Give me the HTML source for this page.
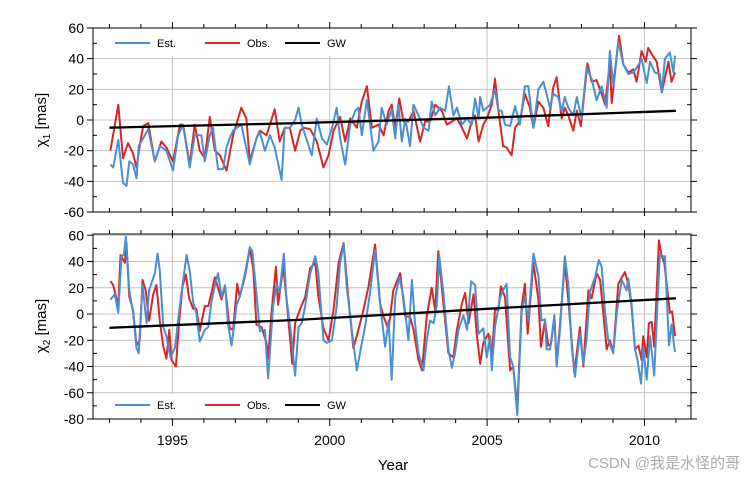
<!DOCTYPE html>
<html><head><meta charset="utf-8">
<style>
html,body{margin:0;padding:0;background:#fff;}
svg{display:block;font-family:"Liberation Sans","Noto Sans CJK SC",sans-serif;}
</style></head>
<body>
<svg id="chart" width="756" height="481" viewBox="0 0 756 481">
<g id="grid"></g>
<g id="series"></g>
<g id="axes"></g>
<g id="legend"></g>
<text x="393" y="470" font-size="15" text-anchor="middle">Year</text>
<text transform="translate(46,120) rotate(-90)" font-size="15" text-anchor="middle">χ<tspan font-size="10" dy="4">1</tspan><tspan dy="-4"> [mas]</tspan></text>
<text transform="translate(46,326) rotate(-90)" font-size="15" text-anchor="middle">χ<tspan font-size="10" dy="4">2</tspan><tspan dy="-4"> [mas]</tspan></text>
<text x="740" y="468" font-size="15" fill="#aaa" text-anchor="end">CSDN @我是水怪的哥</text>
</svg>
<script>
// ---- data ----
const xTicks = [1995, 2000, 2005, 2010];
const topYTicks = [60, 40, 20, 0, -20, -40, -60];
const botYTicks = [60, 40, 20, 0, -20, -40, -60, -80];
const legendLabels = ["Est.", "Obs.", "GW"];

const topEstYears = [1993.03,1993.12,1993.28,1993.43,1993.54,1993.63,1993.75,1993.86,1993.93,1994.07,1994.23,1994.44,1994.60,1994.81,1995.02,1995.18,1995.34,1995.55,1995.71,1995.92,1996.03,1996.19,1996.29,1996.45,1996.61,1996.72,1996.82,1996.93,1997.19,1997.46,1997.67,1997.78,1997.94,1998.10,1998.25,1998.47,1998.57,1998.73,
1998.90,1999.01,1999.11,1999.22,1999.43,1999.59,1999.75,1999.91,2000.07,2000.22,2000.33,2000.49,2000.65,2000.81,2000.91,2001.02,2001.18,2001.39,2001.55,2001.65,2001.81,2001.97,2002.08,2002.18,2002.29,2002.40,2002.55,2002.66,2002.82,2002.98,2003.14,2003.24,2003.35,2003.51,2003.67,2003.79,2003.93,2004.04,2004.20,2004.36,2004.51,2004.62,2004.73,2004.78,2004.88,2004.99,2005.10,
2005.25,2005.36,2005.46,2005.57,2005.73,2005.89,2006.04,2006.20,2006.31,2006.47,2006.63,2006.79,2006.89,2007.00,2007.10,2007.26,2007.37,2007.47,2007.58,2007.74,2007.85,2008.00,2008.16,2008.32,2008.48,2008.64,2008.80,2008.90,2009.01,2009.17,2009.33,2009.49,2009.65,2009.81,2009.91,2010.07,2010.18,2010.33,2010.49,2010.55,2010.65,2010.81,2010.92,2010.97];
const topEstValues = [-29,-31,-13,-41,-43,-27,-29,-38,-17,-12,-6,-27,-17,-20,-33,-10,-3,-31,-10,-10,-27,-10,-5,-32,-32,-18,-12,-7,-3,-29,-12,-8,-20,-10,-18,-39,-5,-5,
0,8,-3,-10,-23,1,-12,-16,-5,8,-12,-29,-3,6,8,-10,13,-20,-14,8,-3,7,-12,10,-14,1,-17,10,3,-5,-7,12,3,8,6,22,3,8,-3,1,-3,14,1,15,6,8,10,
20,6,6,-3,-4,9,-3,22,22,-5,20,25,17,8,17,15,6,15,8,3,15,1,34,27,13,22,8,45,23,51,36,30,31,36,40,24,38,31,30,18,40,44,31,42];

const topObsYears = [1993.03,1993.28,1993.43,1993.59,1993.75,1993.86,1993.96,1994.07,1994.23,1994.44,1994.65,1994.81,1995.02,1995.24,1995.34,1995.55,1995.71,1995.87,1996.03,1996.19,1996.35,1996.51,1996.72,1996.93,1997.19,1997.35,1997.46,1997.67,1997.78,1997.99,1998.25,1998.41,1998.57,1998.73,
1998.90,1999.06,1999.16,1999.38,1999.59,1999.80,1999.96,2000.12,2000.33,2000.49,2000.65,2000.86,2001.02,2001.18,2001.34,2001.55,2001.71,2001.87,2001.97,2002.08,2002.21,2002.34,2002.50,2002.66,2002.87,2003.03,2003.19,2003.35,2003.56,2003.72,2003.88,2004.04,2004.20,2004.36,2004.51,2004.62,2004.73,2004.88,2004.99,2005.15,
2005.25,2005.36,2005.51,2005.62,2005.78,2005.89,2006.04,2006.20,2006.36,2006.47,2006.63,2006.79,2006.94,2007.10,2007.21,2007.37,2007.47,2007.58,2007.74,2007.85,2007.98,2008.19,2008.32,2008.48,2008.64,2008.75,2008.90,2008.96,2009.19,2009.33,2009.49,2009.65,2009.75,2009.91,2010.04,2010.12,2010.23,2010.39,2010.55,2010.76,2010.86,2010.97];
const topObsValues = [-20,10,-25,-15,-22,-31,-17,-4,-2,-27,-14,-18,-27,-3,-3,-29,-3,-20,-25,2,-20,-23,-33,-10,8,1,-27,-12,-7,-10,7,-14,-5,-5,
-20,-7,-5,-6,-14,-31,-23,-7,2,-14,1,-5,12,22,-5,-3,-10,6,10,-5,14,-1,-1,6,-14,-1,-1,10,6,-3,-1,1,-5,-12,-1,3,-14,-3,1,10,
27,6,-17,-18,-23,-5,-1,17,8,-5,12,8,-4,21,28,1,8,3,-7,6,-4,37,25,26,17,10,37,11,55,36,31,33,25,45,38,47,43,38,18,38,25,31];

const topGWYears = [1993, 1999, 2005, 2011];
const topGWValues = [-5, -2, 1.5, 6];

const botEstYears = [1993.03,1993.17,1993.28,1993.38,1993.46,1993.52,1993.63,1993.75,1993.86,1993.93,1994.05,1994.18,1994.26,1994.44,1994.53,1994.60,1994.71,1994.81,1994.94,1995.08,1995.21,1995.32,1995.45,1995.55,1995.66,1995.76,1995.87,1996.03,1996.14,1996.24,1996.35,1996.45,1996.56,1996.67,1996.77,1996.88,1997.04,1997.14,1997.30,1997.46,1997.54,1997.67,1997.78,1997.94,1998.04,1998.20,1998.31,1998.41,1998.54,1998.62,1998.78,
1998.90,1999.01,1999.11,1999.22,1999.38,1999.54,1999.64,1999.80,1999.91,2000.07,2000.22,2000.33,2000.44,2000.54,2000.70,2000.86,2001.02,2001.12,2001.28,2001.44,2001.60,2001.76,2001.87,2001.97,2002.08,2002.21,2002.34,2002.50,2002.61,2002.71,2002.82,2002.98,2003.08,2003.19,2003.30,2003.40,2003.48,2003.61,2003.77,2003.88,2003.98,2004.09,2004.25,2004.36,2004.49,2004.62,2004.73,2004.88,2004.99,2005.10,2005.15,
2005.25,2005.41,2005.51,2005.62,2005.73,2005.83,2005.96,2006.10,2006.20,2006.31,2006.47,2006.63,2006.73,2006.84,2006.89,2007.00,2007.14,2007.21,2007.32,2007.47,2007.58,2007.69,2007.79,2007.95,2008.06,2008.16,2008.27,2008.43,2008.55,2008.64,2008.75,2008.85,2009.01,2009.12,2009.28,2009.43,2009.49,2009.59,2009.70,2009.78,2009.89,2009.96,2010.07,2010.18,2010.31,2010.44,2010.49,2010.60,2010.65,2010.78,2010.86,2010.97];
const botEstValues = [11,15,1,44,45,59,18,1,-26,-30,22,-7,18,31,46,33,-10,-17,-33,-26,1,22,45,33,9,1,-21,-12,-10,9,22,31,13,22,-8,-24,7,13,30,51,48,16,-13,-12,-49,6,23,17,46,13,-17,
-47,-10,-7,6,31,44,31,-20,-22,-20,6,39,53,21,-12,-43,-22,-10,16,49,8,-25,-5,-50,13,28,13,-20,26,-7,-30,-43,-20,-5,-7,6,44,16,-27,-41,-30,-12,-1,-12,25,22,-15,-11,-33,-17,-43,
-10,12,18,23,-33,-40,-77,2,13,-5,46,29,-5,-4,-27,-27,-1,-40,-11,44,23,-25,-48,-15,-38,-20,17,28,41,36,1,-20,-30,1,26,18,27,8,-27,-35,-53,-26,-50,-17,-47,21,46,44,44,-24,-8,-29];

const botObsYears = [1993.03,1993.12,1993.28,1993.35,1993.49,1993.54,1993.63,1993.75,1993.86,1993.96,1994.05,1994.15,1994.26,1994.39,1994.49,1994.60,1994.71,1994.81,1994.90,1994.97,1995.11,1995.21,1995.32,1995.43,1995.53,1995.66,1995.76,1995.87,1996.03,1996.14,1996.24,1996.35,1996.56,1996.67,1996.82,1996.93,1997.06,1997.14,1997.30,1997.46,1997.57,1997.67,1997.83,1997.99,1998.04,1998.15,1998.29,1998.36,1998.52,1998.62,1998.81,
1998.90,1999.06,1999.22,1999.38,1999.54,1999.64,1999.80,1999.96,2000.12,2000.28,2000.44,2000.59,2000.75,2000.91,2001.07,2001.23,2001.44,2001.60,2001.71,2001.87,2002.02,2002.24,2002.40,2002.55,2002.66,2002.82,2002.93,2003.08,2003.24,2003.35,2003.45,2003.61,2003.77,2003.93,2004.04,2004.20,2004.30,2004.41,2004.57,2004.67,2004.78,2004.88,2005.04,2005.15,
2005.25,2005.36,2005.44,2005.57,2005.73,2005.83,2005.96,2006.10,2006.20,2006.29,2006.47,2006.63,2006.71,2006.84,2006.94,2007.03,2007.14,2007.21,2007.32,2007.47,2007.58,2007.77,2007.95,2008.06,2008.22,2008.32,2008.48,2008.59,2008.80,2008.90,2009.01,2009.17,2009.38,2009.49,2009.59,2009.70,2009.81,2009.91,2009.96,2010.07,2010.14,2010.23,2010.31,2010.46,2010.55,2010.63,2010.81,2010.88,2010.97];
const botObsValues = [25,22,6,45,39,54,13,3,-24,-20,26,18,-5,15,22,-5,-25,-34,-12,-35,-40,-7,21,30,12,4,4,-13,6,6,16,28,11,21,-11,-12,23,13,28,50,34,-8,-10,-22,-34,1,36,7,36,13,-38,
-7,4,13,35,39,13,-11,-20,3,39,54,13,-26,-12,3,21,53,8,-2,-12,18,31,-2,-2,-12,-35,-43,-2,20,3,48,8,-30,-33,-12,8,16,-7,15,-15,-38,-22,-15,-33,
3,3,21,13,-43,-40,-71,6,23,-15,39,11,-25,-5,-24,-23,-2,-38,-7,39,11,-45,-10,-40,18,12,31,26,-27,-20,-29,23,32,23,6,-27,-24,-35,-17,-33,-7,-6,-25,56,44,39,1,2,-17];

const botGWYears = [1993, 1999, 2005, 2011];
const botGWValues = [-10.5, -4.5, 4, 12];

// ---- layout ----
const L = 93, R = 691;
const xScale = t => 172.4 + (t - 1995) * 31.47;
const pTop = {y0: 28, y1: 212, min: -60, max: 60};
const pBot = {y0: 234, y1: 419, min: -80, max: 60};
const yTop = v => 120 - v * 30.67 / 20;
const yBot = v => 314 - v * 26.25 / 20;
const NS = "http://www.w3.org/2000/svg";
function mk(tag, attrs, parent){ const e = document.createElementNS(NS, tag); for (const k in attrs) e.setAttribute(k, attrs[k]); parent.appendChild(e); return e; }
const gGrid = document.getElementById('grid'), gSer = document.getElementById('series'), gAx = document.getElementById('axes'), gLeg = document.getElementById('legend');

function panel(p, yf, yTicks, years, est, oyears, obs, gy, gv, name){
  yTicks.forEach(v => {
    const ln = mk('line', {x1: L, x2: R, y1: yf(v), y2: yf(v), stroke: '#c4c4c4', 'stroke-width': 1}, gGrid);
    
    
  });
  xTicks.forEach(t => {
    const ln = mk('line', {x1: xScale(t), x2: xScale(t), y1: p.y0, y2: p.y1, stroke: '#c4c4c4', 'stroke-width': 1}, gGrid);
    
    
  });
  const line = (ys, vs, col, w, nm) => {
    const pts = [];
    ys.forEach((t, i) => { if (vs[i] !== undefined && !isNaN(vs[i])) pts.push(xScale(t).toFixed(1) + ',' + yf(vs[i]).toFixed(1)); });
    const d = 'M' + pts.join('L');
    const pth = mk('path', {d: d, fill: 'none', stroke: col, 'stroke-width': w, 'stroke-linejoin': 'round'}, gSer);
    
    
  };
  line(oyears, obs, '#d62728', 2, name + '-obs-line');
  line(years, est, '#4a8fd0', 2, name + '-est-line');
  line(gy, gv, '#000', 2.3, name + '-gw-line');
  const fr = mk('rect', {x: L, y: p.y0, width: R - L, height: p.y1 - p.y0, fill: 'none', stroke: '#000', 'stroke-width': 1}, gAx);
  
  
  yTicks.forEach(v => {
    mk('line', {x1: L - 6, x2: L, y1: yf(v), y2: yf(v), stroke: '#000'}, gAx);
    mk('line', {x1: R, x2: R + 6, y1: yf(v), y2: yf(v), stroke: '#000'}, gAx);
    const tx = mk('text', {x: L - 9, y: yf(v) + 5, 'font-size': 14, 'text-anchor': 'end'}, gAx);
    tx.textContent = v;
    
    
  });
  for (let v = p.min + 10; v < p.max; v += 20) {
    mk('line', {x1: L, x2: L + 4, y1: yf(v), y2: yf(v), stroke: '#000'}, gAx);
    mk('line', {x1: R - 4, x2: R, y1: yf(v), y2: yf(v), stroke: '#000'}, gAx);
  }
  for (let t = 1993; t <= 2011; t++) {
    const maj = xTicks.includes(t);
    const x = xScale(t);
    if (name === 'top') {
      mk('line', {x1: x, x2: x, y1: p.y0 - (maj ? 6 : 4), y2: p.y0, stroke: '#000'}, gAx);
      mk('line', {x1: x, x2: x, y1: p.y1 - 4, y2: p.y1 + (maj ? 4 : 0), stroke: '#000'}, gAx);
    } else {
      mk('line', {x1: x, x2: x, y1: p.y0 - 4, y2: p.y0 + (maj ? 4 : 0), stroke: '#000'}, gAx);
      mk('line', {x1: x, x2: x, y1: p.y1, y2: p.y1 + (maj ? 7 : 4), stroke: '#000'}, gAx);
    }
  }
}
panel(pTop, yTop, topYTicks, topEstYears, topEstValues, topObsYears, topObsValues, topGWYears, topGWValues, 'top');
panel(pBot, yBot, botYTicks, botEstYears, botEstValues, botObsYears, botObsValues, botGWYears, botGWValues, 'bottom');

xTicks.forEach(t => {
  const tx = mk('text', {x: xScale(t), y: 445, 'font-size': 14, 'text-anchor': 'middle'}, gAx);
  tx.textContent = t;
  
  
});

const legCols = ['#4a8fd0', '#d62728', '#000'];
function legend(bx, by, bw, bh, ly, nm){
  const bg = mk('rect', {x: bx, y: by, width: bw, height: bh, fill: '#fff'}, gLeg);
  
  
  const xs = [115, 205, 285];
  legendLabels.forEach((lab, i) => {
    const ln = mk('line', {x1: xs[i], x2: xs[i] + 35, y1: ly, y2: ly, stroke: legCols[i], 'stroke-width': 2}, gLeg);
    
    
    const tx = mk('text', {x: xs[i] + 42, y: ly + 4, 'font-size': 11}, gLeg);
    tx.textContent = lab;
    
    
  });
}
legend(106, 30, 255, 26, 43, 'top');
legend(106, 394, 255, 24, 405, 'bottom');
</script>
</body></html>
